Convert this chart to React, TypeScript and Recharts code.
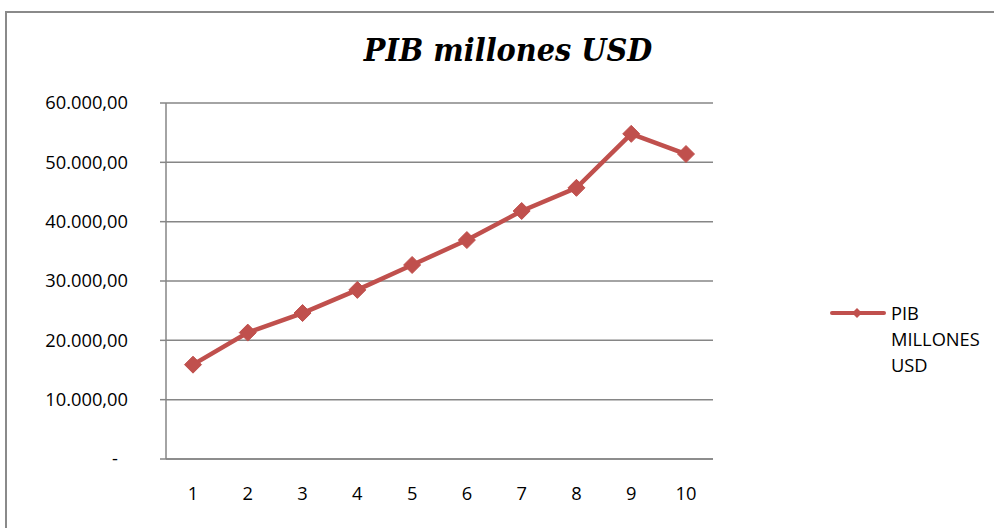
import React from 'react';
import { LineChart, Line, XAxis, YAxis, CartesianGrid } from 'recharts';

// categories (periodos) and PIB values
const periods = ['1', '2', '3', '4', '5', '6', '7', '8', '9', '10'];
const pibValues = [15900, 21300, 24600, 28500, 32700, 36900, 41800, 45700, 54800, 51400];
const yTicks = [0, 10000, 20000, 30000, 40000, 50000, 60000];
const seriesName = 'PIB MILLONES USD';

const data = periods.map((p, i) => ({ period: p, pib: pibValues[i] }));

const FONT = '"Open Sans", "Noto Sans", sans-serif';
const FONT_SIZE = 18.3;
const RED = '#c0504d';
const GRID = '#868686';

const formatNumber = (v: number) => {
  const fixed = v.toFixed(2).split('.');
  const int = fixed[0].replace(/\B(?=(\d{3})+(?!\d))/g, '.');
  return int + ',' + fixed[1];
};

const YTick = (props: any) => {
  const { x, y, payload } = props;
  const isZero = payload.value === 0;
  return (
    <text
      x={isZero ? x - 10 : x}
      y={y}
      dy="0.355em"
      textAnchor="end"
      fill="#000"
      fontSize={FONT_SIZE}
      fontFamily={FONT}
    >
      {isZero ? '-' : formatNumber(payload.value)}
    </text>
  );
};

const Diamond = (props: any) => {
  const { cx, cy, index } = props;
  if (cx == null || cy == null) return <g key={index} />;
  const r = 8.5;
  return (
    <polygon
      key={index}
      points={`${cx},${cy - r} ${cx + r},${cy} ${cx},${cy + r} ${cx - r},${cy}`}
      fill={RED}
      stroke={RED}
      strokeWidth={1}
    />
  );
};

// legend drawn as plain html so it doesn't eat plot space
const LegendBox = () => (
  <div style={{ position: 'absolute', left: 830, top: 300, fontFamily: FONT, fontSize: FONT_SIZE, lineHeight: '26px', color: '#000' }}>
    <svg width={56} height={12} style={{ position: 'absolute', left: 0, top: 7 }}>
      <line x1={2} y1={6} x2={54} y2={6} stroke={RED} strokeWidth={4} strokeLinecap="round" />
      <polygon points="27,1 32,6 27,11 22,6" fill={RED} />
    </svg>
    <div style={{ marginLeft: 61, width: 100 }}>
      {seriesName.split(' ').map((w, i) => (
        <div key={i}>{w}</div>
      ))}
    </div>
  </div>
);

const App: React.FC = () => {
  return (
    <div style={{ position: 'absolute', left: 0, top: 0, width: 994, height: 528, overflow: 'hidden', background: '#fff' }}>
      <div
        style={{
          position: 'absolute',
          left: 5,
          top: 11,
          width: 1100,
          height: 700,
          border: '2px solid #8a8a8a',
        }}
      />
      <div
        style={{
          position: 'absolute',
          left: 0,
          top: 31,
          width: 1016,
          textAlign: 'center',
          fontFamily: '"DejaVu Serif Condensed", "DejaVu Serif", serif',
          fontWeight: 'bold',
          fontStyle: 'italic',
          fontSize: 32,
        }}
      >
        PIB millones USD
      </div>
      <div style={{ position: 'absolute', left: 0, top: 0 }}>
        <LineChart width={994} height={528} data={data} margin={{ top: 103, right: 281, bottom: 0, left: 0 }}>
          <CartesianGrid vertical={false} stroke={GRID} strokeWidth={1.5} />
          <XAxis
            dataKey="period"
            height={69}
            padding={{ left: 27, right: 27 }}
            tickLine={false}
            axisLine={{ stroke: GRID, strokeWidth: 1.5 }}
            tickSize={0}
            tickMargin={28}
            tick={{ fill: '#000', fontSize: FONT_SIZE, fontFamily: FONT }}
            interval={0}
          />
          <YAxis
            width={166}
            domain={[0, 60000]}
            ticks={yTicks}
            tick={<YTick />}
            tickSize={6}
            tickMargin={32}
            tickLine={{ stroke: GRID, strokeWidth: 1.5 }}
            axisLine={{ stroke: GRID, strokeWidth: 1.5 }}
          />
          <Line
            type="linear"
            dataKey="pib"
            name={seriesName}
            stroke={RED}
            strokeWidth={4.5}
            dot={<Diamond />}
            activeDot={false}
            isAnimationActive={false}
          />
        </LineChart>
      </div>
      <LegendBox />
    </div>
  );
};

export default App;
